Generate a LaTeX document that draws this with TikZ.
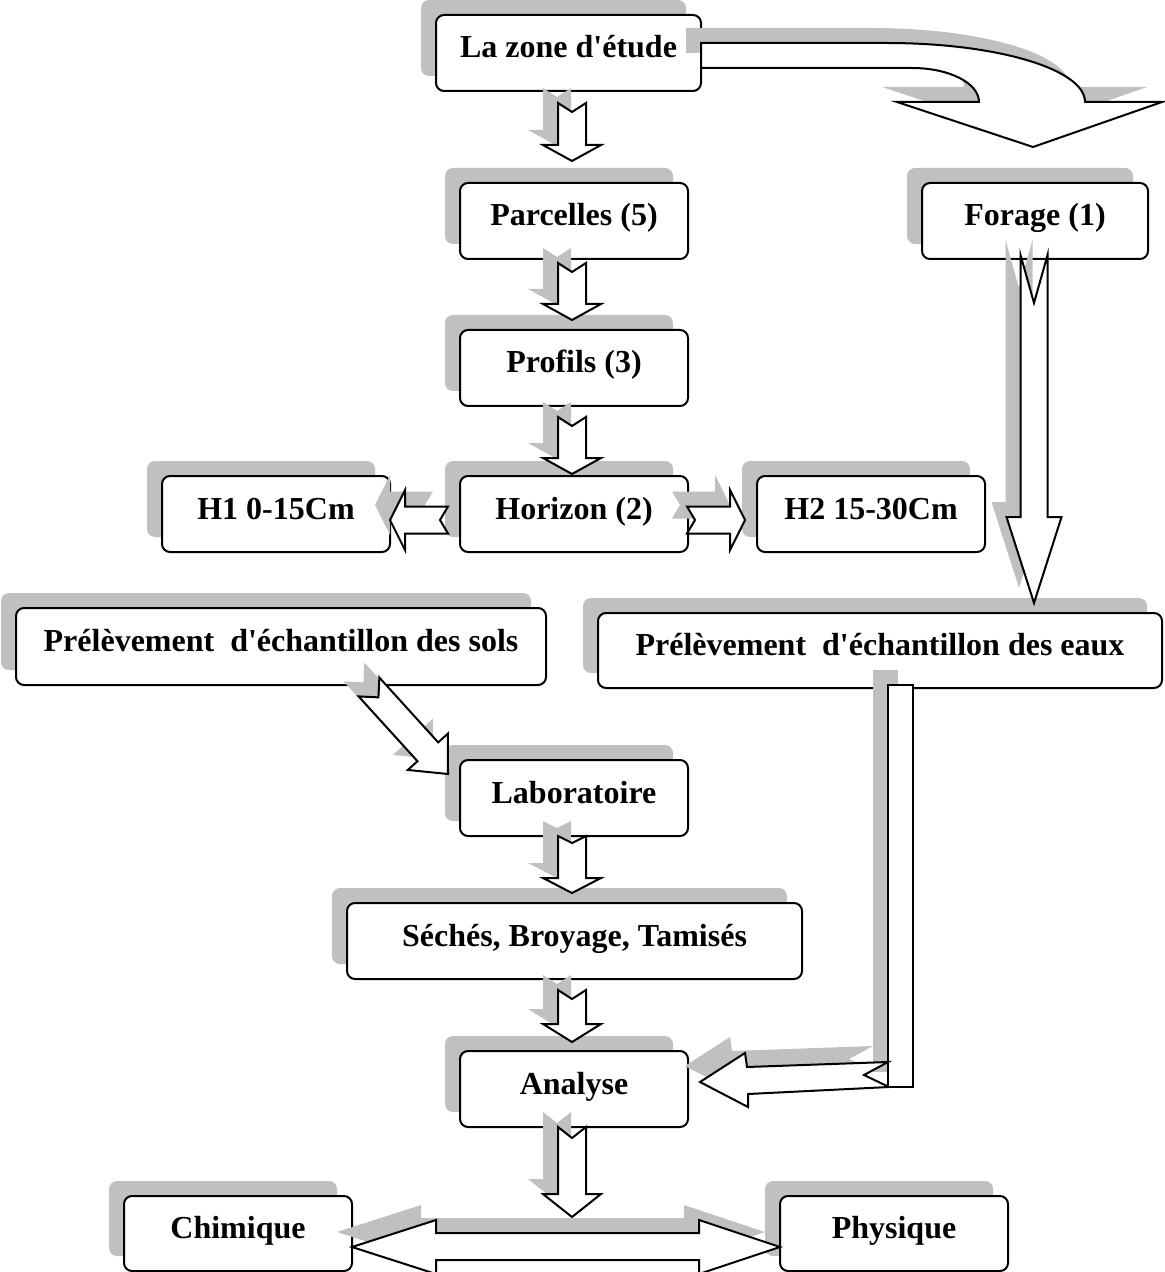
\documentclass[tikz,border=0pt]{standalone}
\usepackage{fontspec}
\setmainfont{Liberation Serif}[Ligatures=TeXOff]
\usetikzlibrary{calc,shadows}
\definecolor{shadowgray}{HTML}{C0C0C0}
\tikzset{
  box/.style={draw=black, line width=1pt, fill=white, rounded corners=4pt,
    inner sep=0pt, text height=11.2pt, text depth=6.2pt,
    minimum height=38pt, minimum width=114pt,
    font=\fontsize{16}{19}\selectfont\bfseries,
    general shadow={fill=shadowgray, shadow xshift=-7.5pt, shadow yshift=7.5pt}},
  arrowfill/.style={draw=black, line width=1pt, fill=white, line join=miter},
  shadowfill/.style={fill=shadowgray},
}
% block arrow: #1 tail, #2 tip, #3 shaft half width, #4 head half width, #5 head length, #6 notch depth, #7 style
\newcommand\barrow[7]{%
  \coordinate (ba-h) at ($(#2)!#5!(#1)$);
  \coordinate (ba-n) at ($(#1)!#6!(#2)$);
  \path[#7] ($(#1)!#3!90:(#2)$) -- ($(ba-h)!#3!-90:(#1)$) -- ($(ba-h)!#4!-90:(#1)$)
    -- (#2) -- ($(ba-h)!#4!90:(#1)$) -- ($(ba-h)!#3!90:(#1)$)
    -- ($(#1)!#3!-90:(#2)$) -- (ba-n) -- cycle;
}
\newcommand\sbarrow[6]{%
  \coordinate (sb-a) at ($(#1)+(-15,-15)$);
  \coordinate (sb-b) at ($(#2)+(-15,-15)$);
  \barrow{sb-a}{sb-b}{#3}{#4}{#5}{#6}{shadowfill}
  \barrow{#1}{#2}{#3}{#4}{#5}{#6}{arrowfill}
}
\newcommand\curvedpath{(701,43) -- (887,43) .. controls (996,43) and (1085,69) .. (1085,102)
  -- (1162,102) -- (1033,147) -- (897,102) -- (979,102)
  .. controls (979,83) and (949,68) .. (912,68) -- (701,68) -- cycle}
\newcommand\doublepath{(352,1247) -- (436,1220) -- (436,1233) -- (699,1233) -- (699,1220)
  -- (780,1247) -- (699,1274) -- (699,1260) -- (436,1260) -- (436,1274) -- cycle}
\newcommand\waterarrowpath{(888,1062) -- (747,1067) -- (745,1053) -- (700,1082) -- (748,1107)
  -- (748,1094) -- (889,1087) -- (864,1075) -- cycle}
\begin{document}
\begin{tikzpicture}[x=0.5pt,y=-0.5pt]
\useasboundingbox (0,0) rectangle (1164,1272);
% boxes
\node[box, minimum width=132.5pt] (zone) at (568.5,53) {La zone d'étude};
\node[box] (parc) at (574,221) {Parcelles (5)};
\node[box, minimum width=113pt] (forage) at (1035,221) {Forage (1)};
\node[box] (profils) at (574,368) {Profils (3)};
\node[box] (h1) at (276,514) {H1 0-15Cm};
\node[box] (horizon) at (574,514) {Horizon (2)};
\node[box] (h2) at (871,514) {H2 15-30Cm};
\node[box, minimum width=265pt, minimum height=38.5pt] (sols) at (281,646.5) {Prélèvement\ \ d'échantillon des sols};
\node[box, minimum width=282pt, minimum height=37.5pt] (eaux) at (880,650.5) {Prélèvement\ \ d'échantillon des eaux};
\node[box] (labo) at (574,798) {Laboratoire};
\node[box, minimum width=227.5pt] (seches) at (574.5,941) {Séchés, Broyage, Tamisés};
\node[box] (analyse) at (574,1089) {Analyse};
\node[box, minimum height=37.5pt] (chim) at (238,1233.5) {Chimique};
\node[box, minimum height=37.5pt] (phys) at (894,1233.5) {Physique};

% curved arrow from la zone d'etude
\begin{scope}[shift={(-15,-15)}]
  \path[shadowfill] \curvedpath;
\end{scope}
\path[arrowfill] \curvedpath;

% straight arrows
\coordinate (a1t) at (572,103);  \coordinate (a1h) at (572,161);
\coordinate (a2t) at (572,263);  \coordinate (a2h) at (572,320);
\coordinate (a3t) at (572,417);  \coordinate (a3h) at (572,474);
\coordinate (a4t) at (572,836);  \coordinate (a4h) at (572,893);
\coordinate (a5t) at (572,990);  \coordinate (a5h) at (572,1042);
\coordinate (a6t) at (572,1127); \coordinate (a6h) at (572,1217);
\coordinate (aft) at (1034,255); \coordinate (afh) at (1034,603);
\coordinate (alt) at (448,520);  \coordinate (alh) at (390,520);
\coordinate (art) at (687,520);  \coordinate (arh) at (745,520);
\coordinate (adt) at (369,687);  \coordinate (adh) at (448,774);

\sbarrow{a1t}{a1h}{7pt}{14.5pt}{8pt}{4.5pt}
\sbarrow{a2t}{a2h}{7pt}{14.5pt}{8pt}{4.5pt}
\sbarrow{a3t}{a3h}{7pt}{14.5pt}{8pt}{4.5pt}
\sbarrow{a4t}{a4h}{7pt}{14.5pt}{7.5pt}{3.5pt}
\sbarrow{a5t}{a5h}{7pt}{14.5pt}{9pt}{4.5pt}
\sbarrow{a6t}{a6h}{7pt}{14.5pt}{11.5pt}{5.5pt}
\sbarrow{aft}{afh}{6.75pt}{13.75pt}{43pt}{24pt}
\sbarrow{alt}{alh}{6.75pt}{15pt}{7.5pt}{4pt}
\sbarrow{art}{arh}{6.75pt}{15pt}{7.5pt}{4pt}
\sbarrow{adt}{adh}{7pt}{13.5pt}{15pt}{7pt}

% water bar and arrow to Analyse
\path[shadowfill] (873,670) rectangle (898,1072);
\begin{scope}[shift={(-15,-16)}]
  \path[shadowfill] \waterarrowpath;
\end{scope}
\path[arrowfill] (888,685) rectangle (913,1087);
\path[arrowfill] \waterarrowpath;

% double arrow Chimique <-> Physique
\begin{scope}[shift={(-15,-15)}]
  \path[shadowfill] \doublepath;
\end{scope}
\path[arrowfill] \doublepath;
\end{tikzpicture}
\end{document}
